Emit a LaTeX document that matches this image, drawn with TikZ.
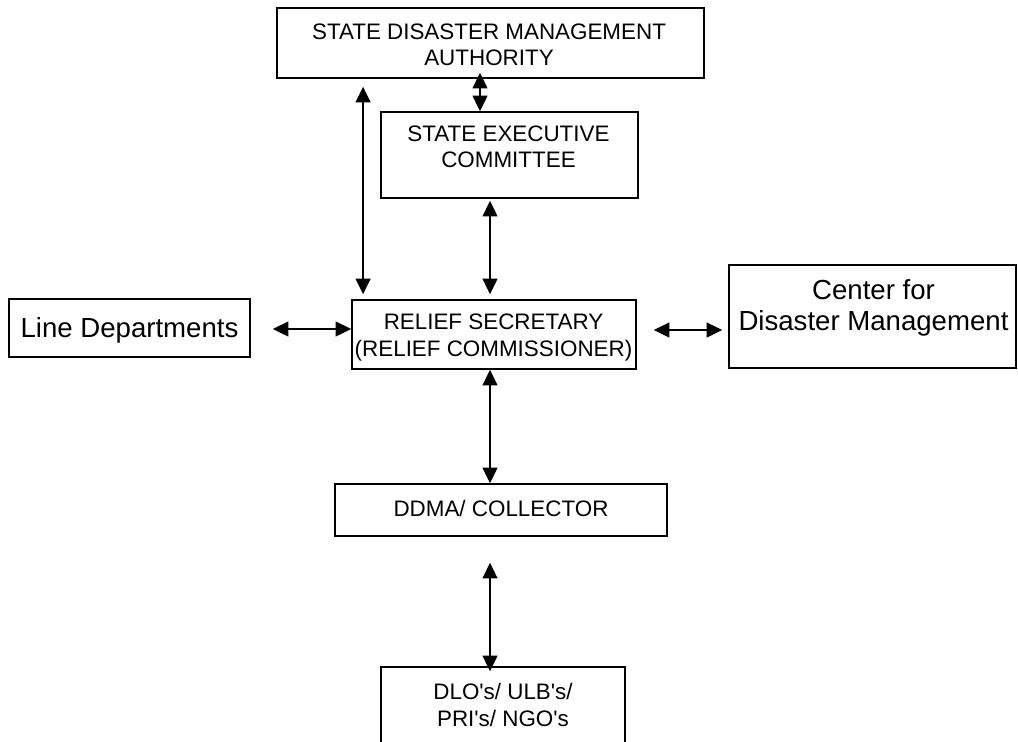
\documentclass[tikz,border=0pt]{standalone}
\usepackage{fontspec}
\setmainfont{Liberation Sans}
\usetikzlibrary{arrows.meta,calc}
\begin{document}
\begin{tikzpicture}[x=1pt,y=-1pt,
  box/.style={draw, line width=1.8pt, inner sep=0pt, rectangle},
  lbl/.style={font=\fontsize{22.4}{26.5}\selectfont, align=center, inner sep=0pt},
  big/.style={font=\fontsize{27.6}{31}\selectfont, align=center, inner sep=0pt},
  link/.style={line width=1.4pt, {Triangle[length=15.5pt,width=15pt]}-{Triangle[length=15.5pt,width=15pt]}}]
\useasboundingbox (0,0) rectangle (1018,742);
\fill[white] (0,0) rectangle (1018,742);
\clip (0,0) rectangle (1018,742);

% boxes
\node[box, minimum width=427pt, minimum height=70pt] (sdma) at (490.5,43) {};
\node[box, minimum width=257pt, minimum height=86pt] (sec) at (509.5,155) {};
\node[box, minimum width=241pt, minimum height=58pt] (line) at (129.5,328) {};
\node[box, minimum width=284pt, minimum height=69pt] (rs) at (494,334.5) {};
\node[box, minimum width=287pt, minimum height=103pt] (cdm) at (872.5,316.5) {};
\node[box, minimum width=332pt, minimum height=52pt] (ddma) at (501,510) {};
\node[box, minimum width=244pt, minimum height=93pt] (dlo) at (503,713.5) {};

% texts
\node[lbl] (sdmaT) at (489,45) {STATE DISASTER MANAGEMENT\\AUTHORITY};
\node[lbl] (secT) at (508.5,147) {STATE EXECUTIVE\\COMMITTEE};
\node[big, anchor=base] (lineT) at (129.5,337) {Line Departments};
\node[lbl] (rsT) at (493.5,337.4) {RELIEF SECRETARY\\(RELIEF COMMISSIONER)};
\node[big] (cdmT) at (873.5,308) {Center for\\Disaster Management};
\node[lbl] (ddmaT) at (501,508) {DDMA/ COLLECTOR};
\node[lbl] (dloT) at (503,705) {DLO\textquotesingle s/ ULB\textquotesingle s/\\PRI\textquotesingle s/ NGO\textquotesingle s};

% connectors
\draw[link] ($(sdma.south)+(-10.5,-6)$) -- ($(sec.north)+(-29.5,0)$);
\draw[link] ($(sdma.south -| rs.west)+(12,8)$) -- ($(rs.north west)+(12,-5)$);
\draw[link] ($(sec.south)+(-19.5,2)$) -- ($(rs.north)+(-4,-5)$);
\draw[link] ($(line.east)+(22,1)$) -- ($(line.east -| rs.west)+(0,1)$);
\draw[link] ($(rs.east)+(17,-4.5)$) -- ($(rs.east -| cdm.west)+(-6,-4.5)$);
\draw[link] ($(rs.south)+(-4,0)$) -- ($(ddma.north)+(-11,0)$);
\draw[link] ($(ddma.south)+(-11,26)$) -- ($(dlo.north)+(-13,5)$);
\end{tikzpicture}
\end{document}
